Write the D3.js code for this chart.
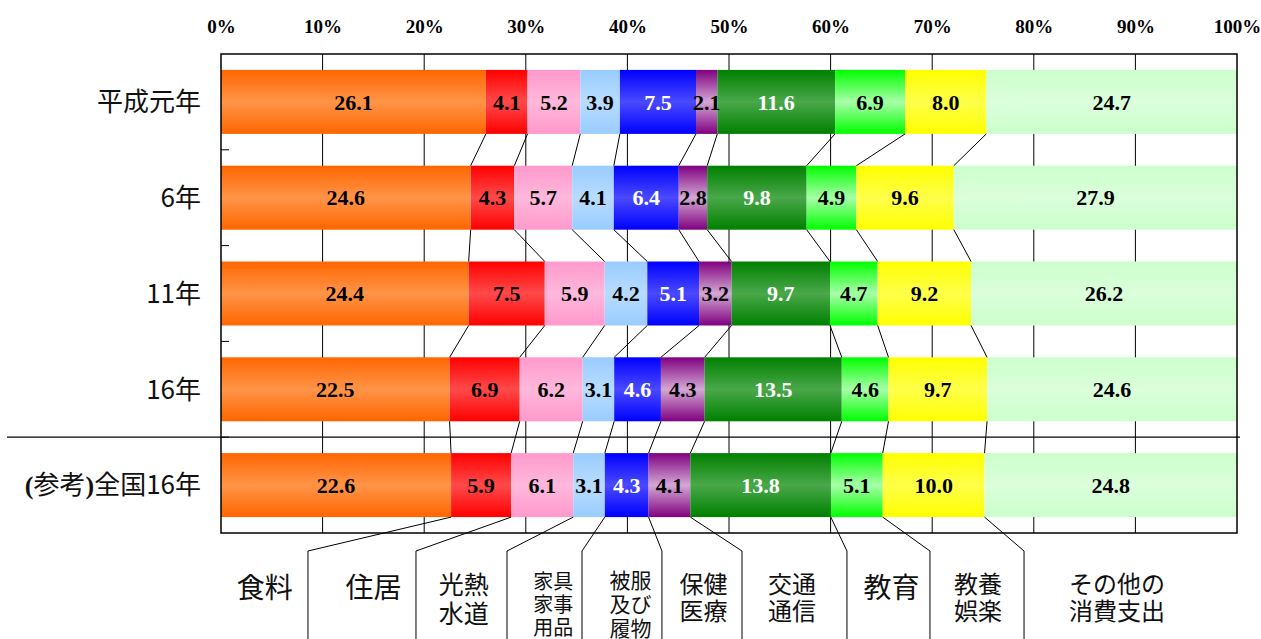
<!DOCTYPE html>
<html>
<head>
<meta charset="utf-8">
<script src="https://cdn.jsdelivr.net/npm/d3@7"></script>
<style>
  body { margin: 0; background: #fff; }
</style>
</head>
<body>
<svg id="chart"></svg>
<script>
// 消費支出の構成比 (%)
const years = ["平成元年", "6年", "11年", "16年", "(参考)全国16年"];
const items = ["食料", "住居", "光熱水道", "家具家事用品", "被服及び履物",
               "保健医療", "交通通信", "教育", "教養娯楽", "その他の消費支出"];

const heisei1   = [26.1, 4.1, 5.2, 3.9, 7.5, 2.1, 11.6, 6.9, 8.0, 24.7];
const heisei6   = [24.6, 4.3, 5.7, 4.1, 6.4, 2.8,  9.8, 4.9, 9.6, 27.9];
const heisei11  = [24.4, 7.5, 5.9, 4.2, 5.1, 3.2,  9.7, 4.7, 9.2, 26.2];
const heisei16  = [22.5, 6.9, 6.2, 3.1, 4.6, 4.3, 13.5, 4.6, 9.7, 24.6];
const zenkoku16 = [22.6, 5.9, 6.1, 3.1, 4.3, 4.1, 13.8, 5.1, 10.0, 24.8];
const shares = [heisei1, heisei6, heisei11, heisei16, zenkoku16];

const percentTicks = [0, 10, 20, 30, 40, 50, 60, 70, 80, 90, 100];

const itemLines = [["食料"], ["住居"], ["光熱", "水道"], ["家具", "家事", "用品"],
                   ["被服", "及び", "履物"], ["保健", "医療"], ["交通", "通信"],
                   ["教育"], ["教養", "娯楽"], ["その他の", "消費支出"]];

const edgeColors = ["#ff6600", "#ff0000", "#ff99cc", "#99ccff", "#0000ff",
                    "#800080", "#008000", "#00ff00", "#ffff00", "#ccffcc"];
const midColors  = ["#ff9448", "#ff4a4a", "#ffb8dc", "#b8dcff", "#4a4aff",
                    "#d4a8d4", "#4aa84a", "#a8ffa8", "#ffff4a", "#dbffdb"];
const whiteText = ["被服及び履物", "交通通信"];

// bottom annotation layout (percent along x axis)
const dividerPct = [8.56, 19.19, 28.15, 35.53, 43.4, 51.28, 61.61, 69.78, 79.04];
const labelPct   = [4.3, 15.0, 23.9, 32.7, 40.3, 47.5, 56.2, 66.0, 74.5, 88.2];
const labelSize  = [28, 28, 25, 20, 21, 24, 24, 28, 24, 24];
const labelTopY  = [588, 588, 585, 582, 580, 584, 584, 588, 584, 584];

const W = 1261, H = 639;
const plot = { left: 221, right: 1237, top: 54, bottom: 533 };

const svg = d3.select("#chart").attr("width", W).attr("height", H);

const x = d3.scaleLinear().domain([0, 1]).range([plot.left, plot.right]);
const y = d3.scaleBand().domain(years).range([plot.top, plot.bottom])
  .paddingInner(0.332).paddingOuter(0.166);
const bw = y.bandwidth();
const step = y.step();

const rows = years.map((yr, i) => {
  const o = { year: yr };
  items.forEach((it, j) => o[it] = shares[i][j]);
  return o;
});
const series = d3.stack().keys(items).offset(d3.stackOffsetExpand)(rows);

// gradients
const defs = svg.append("defs");
items.forEach((it, j) => {
  const g = defs.append("linearGradient").attr("id", "grad" + j)
    .attr("x1", 0).attr("y1", 0).attr("x2", 0).attr("y2", 1);
  g.append("stop").attr("offset", "0%").attr("stop-color", edgeColors[j]);
  g.append("stop").attr("offset", "50%").attr("stop-color", midColors[j]);
  g.append("stop").attr("offset", "100%").attr("stop-color", edgeColors[j]);
});

// gridlines
svg.append("g").selectAll("line")
  .data(percentTicks.slice(1, -1))
  .join("line")
  .attr("x1", d => x(d / 100)).attr("x2", d => x(d / 100))
  .attr("y1", plot.top).attr("y2", plot.bottom)
  .attr("stroke", "#000").attr("stroke-width", 1);

// category ticks (inside)
svg.append("g").selectAll("line")
  .data(years.slice(1))
  .join("line")
  .attr("x1", plot.left).attr("x2", plot.left + 8)
  .attr("y1", d => y(d) - step * 0.166).attr("y2", d => y(d) - step * 0.166)
  .attr("stroke", "#000").attr("stroke-width", 1);

// separator between 16年 and 全国
const sepY = y(years[4]) - step * 0.166;
svg.append("line")
  .attr("x1", 7).attr("x2", 1240).attr("y1", sepY).attr("y2", sepY)
  .attr("stroke", "#000").attr("stroke-width", 1.3);

// bars
const layer = svg.append("g").selectAll("g")
  .data(series)
  .join("g")
  .attr("fill", (d, j) => `url(#grad${j})`);

layer.selectAll("rect")
  .data(d => d)
  .join("rect")
  .attr("x", d => x(d[0]))
  .attr("width", d => x(d[1]) - x(d[0]))
  .attr("y", d => y(d.data.year))
  .attr("height", bw);

// value labels
series.forEach((s, j) => {
  svg.append("g").selectAll("text")
    .data(s)
    .join("text")
    .attr("x", d => (x(d[0]) + x(d[1])) / 2)
    .attr("y", d => y(d.data.year) + bw / 2)
    .attr("dy", "0.35em")
    .attr("text-anchor", "middle")
    .attr("font-family", "'Liberation Serif', serif")
    .attr("font-weight", "bold")
    .attr("font-size", 22)
    .attr("fill", whiteText.includes(s.key) ? "#fff" : "#000")
    .text(d => d3.format(".1f")(d.data[s.key]));
});

// series lines between bars
const serLines = [];
series.slice(0, -1).forEach(s => {
  for (let i = 0; i < years.length - 1; i++) {
    serLines.push({
      x1: x(s[i][1]), y1: y(years[i]) + bw,
      x2: x(s[i + 1][1]), y2: y(years[i + 1])
    });
  }
});
svg.append("g").selectAll("line")
  .data(serLines)
  .join("line")
  .attr("x1", d => d.x1).attr("y1", d => d.y1)
  .attr("x2", d => d.x2).attr("y2", d => d.y2)
  .attr("stroke", "#000").attr("stroke-width", 1);

// frame
svg.append("rect")
  .attr("x", plot.left).attr("y", plot.top)
  .attr("width", plot.right - plot.left).attr("height", plot.bottom - plot.top)
  .attr("fill", "none").attr("stroke", "#000").attr("stroke-width", 1.5);

// top axis
const axis = svg.append("g")
  .attr("transform", `translate(0,${plot.top - 21})`)
  .call(d3.axisTop(x).tickValues(percentTicks.map(d => d / 100))
    .tickFormat(d3.format(".0%")).tickSize(0).tickPadding(0));
axis.select(".domain").remove();
axis.selectAll("text")
  .attr("font-family", "'Liberation Serif', serif")
  .attr("font-weight", "bold")
  .attr("font-size", 19)
  .attr("fill", "#000");

// category labels
const cat = svg.append("g").selectAll("text")
  .data(years)
  .join("text")
  .attr("x", 201)
  .attr("y", d => y(d) + bw / 2)
  .attr("dy", "0.36em")
  .attr("text-anchor", "end")
  .attr("font-family", "'Noto Sans CJK JP', sans-serif")
  .attr("font-size", 26)
  .attr("fill", "#111");
cat.each(function(d) {
  const t = d3.select(this);
  if (d.startsWith("(")) {
    const m = d.match(/^\((.*)\)(.*)$/);
    t.append("tspan").attr("font-family", "'Liberation Serif', serif").attr("font-weight", "bold").text("(");
    t.append("tspan").text(m[1]);
    t.append("tspan").attr("font-family", "'Liberation Serif', serif").attr("font-weight", "bold").text(")");
    t.append("tspan").text(m[2]);
  } else {
    t.text(d);
  }
});

// bottom leader lines
const last = years.length - 1;
const leaders = series.slice(0, -1).map((s, k) => {
  const xs = x(s[last][1]);
  const xd = x(dividerPct[k] / 100);
  return [[xs, y(years[last]) + bw], [xd, 551], [xd, H]];
});
svg.append("g").selectAll("path")
  .data(leaders)
  .join("path")
  .attr("d", d3.line())
  .attr("fill", "none")
  .attr("stroke", "#000")
  .attr("stroke-width", 1);

// item labels
svg.append("g").selectAll("text")
  .data(itemLines)
  .join("text")
  .attr("text-anchor", "middle")
  .attr("font-family", "'Noto Sans CJK JP', sans-serif")
  .attr("fill", "#111")
  .attr("font-size", (d, i) => labelSize[i])
  .each(function(lines, i) {
    d3.select(this).selectAll("tspan")
      .data(lines)
      .join("tspan")
      .attr("x", x(labelPct[i] / 100))
      .attr("y", (l, k) => labelTopY[i] + k * labelSize[i] * 1.15)
      .attr("dy", "0.36em")
      .text(l => l);
  });
</script>
</body>
</html>
